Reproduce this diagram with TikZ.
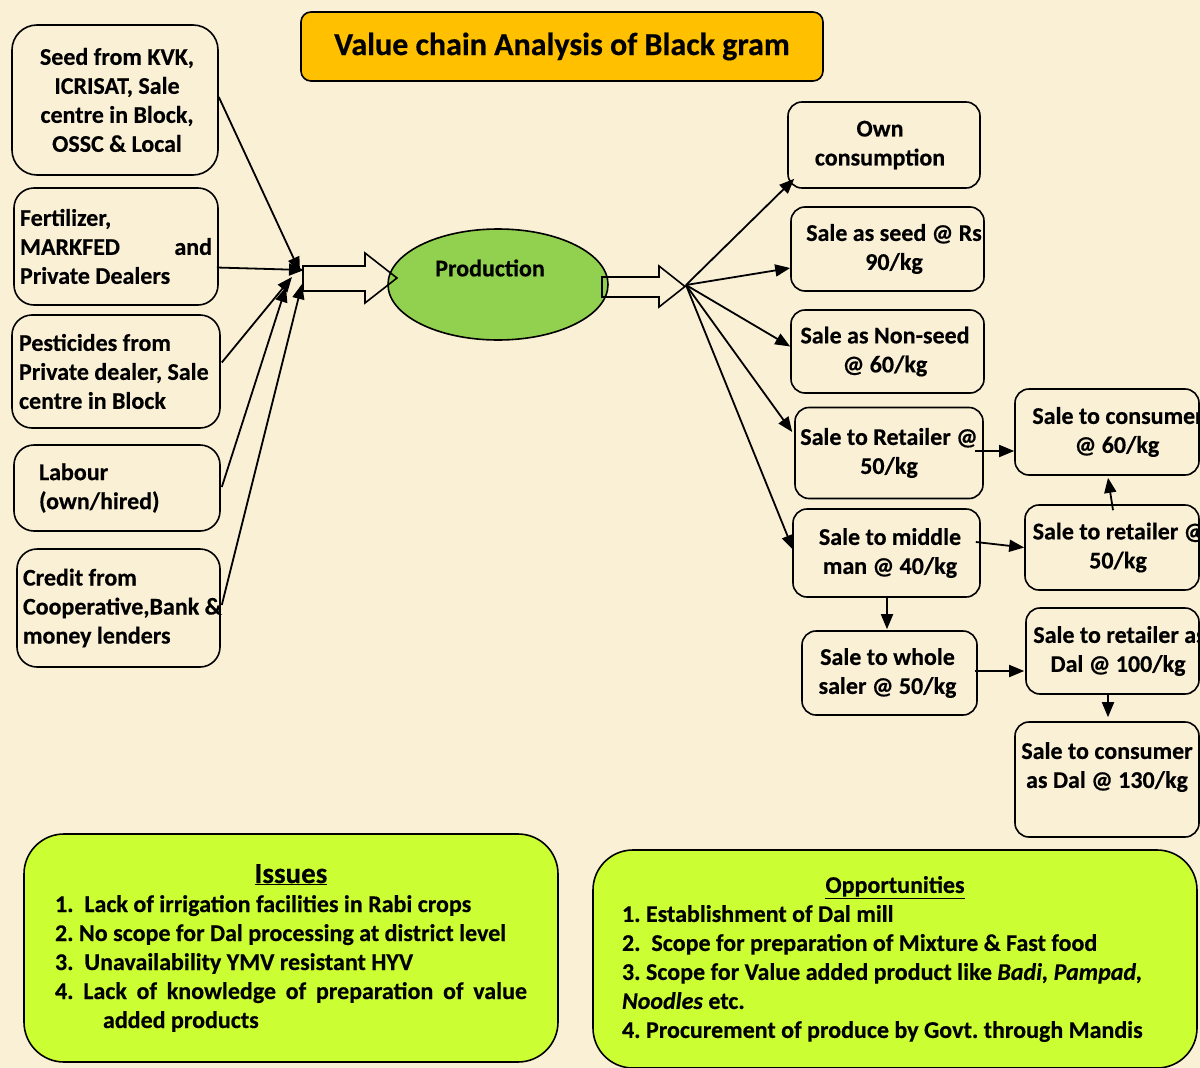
\documentclass[tikz,border=0pt]{standalone}
\usepackage{fontspec}
\setmainfont{Carlito}[BoldFeatures={FakeBold=0.4},BoldItalicFeatures={FakeBold=0.4}]
\usetikzlibrary{arrows.meta,shapes.geometric,calc}
\definecolor{bgc}{RGB}{250,240,214}
\definecolor{titlec}{RGB}{255,192,0}
\definecolor{prodc}{RGB}{146,208,80}
\definecolor{limec}{RGB}{204,255,51}
\newcommand{\rline}[2][0pt]{\makebox[\linewidth]{\hspace*{#1}#2}}
\frenchspacing
\tikzset{
  natspace/.style={execute at begin node={\spaceskip=0pt\relax\xspaceskip=0pt\relax\frenchspacing}},
  boxtext/.style={font=\fontsize{24}{29}\selectfont\bfseries},
  lbox/.style={draw, line width=1.6pt, rounded corners=20pt, inner sep=0pt, boxtext, natspace},
  rbox/.style={draw, line width=1.6pt, rounded corners=14pt, inner sep=0pt, align=center, boxtext, natspace},
  arr/.style={line width=1.8pt, -{Triangle[length=15pt,width=12pt]}},
  blockarrow/.style={draw, line width=1.6pt, line join=miter},
  bigbox/.style={draw, line width=1.6pt, rounded corners=40pt, fill=limec, inner sep=0pt, natspace},
}
\begin{document}
\begin{tikzpicture}[x=1pt,y=-1pt]
\fill[bgc] (0,0) rectangle (1200,1068);
\useasboundingbox (0,0) rectangle (1200,1068);

% title
\node[draw, line width=1.6pt, rounded corners=10pt, fill=titlec, minimum width=522, minimum height=69, inner sep=0pt, font=\fontsize{32}{38}\selectfont\bfseries] (title) at (562,46.5) {Value chain Analysis of Black gram};

% left input boxes
\node[lbox, rounded corners=25pt, minimum width=206, minimum height=150, text width=200, align=center] (seed) at (115,100) {\rline[4pt]{Seed from KVK,}\\\rline[4pt]{ICRISAT, Sale}\\\rline[4pt]{centre in Block,}\\\rline[4pt]{OSSC \& Local}};
\node[lbox, minimum width=204, minimum height=117, text width=192, align=left] (fert) at (116,246.5) {Fertilizer,\\MARKFED\hfill and\\Private Dealers};
\node[lbox, minimum width=208, minimum height=113, text width=194, align=left] (pest) at (116,371.5) {Pesticides from\\\mbox{Private dealer, Sale}\\centre in Block};
\node[lbox, minimum width=206, minimum height=86, text width=156, align=left] (labour) at (117,488) {Labour\\(own/hired)};
\node[lbox, minimum width=203, minimum height=118, text width=191, align=left] (credit) at (118.5,608) {Credit from\\\mbox{Cooperative,Bank \&}\\money lenders};

% production
\node[ellipse, draw, line width=1.6pt, fill=prodc, minimum width=220, minimum height=111, inner sep=0pt] (prod) at (498,284.5) {};
\node[boxtext] (prodtext) at (490,268) {Production};

% block arrows
\draw[blockarrow] (303,266) -- (365,266) -- (365,253) -- (397,278) -- (365,303) -- (365,291) -- (303,291) -- cycle;
\draw[blockarrow] (602,277) -- (659,277) -- (659,266) -- (685,286.5) -- (659,307) -- (659,297) -- (602,297) -- cycle;

% convergence
\coordinate (c1) at (300,272);
\coordinate (c2) at (304,270);
\coordinate (c3) at (292,277);
\coordinate (c4) at (286,287);
\coordinate (c5) at (302,284);
\draw[arr] ($(seed.east)+(0,-3)$) -- (c1);
\draw[arr] ($(fert.east)+(-2,21)$) -- (c2);
\draw[arr] ($(pest.east)+(1,-9)$) -- (c3);
\draw[arr] ($(labour.east)+(1,-1)$) -- (c4);
\draw[arr] ($(credit.east)+(1,-3)$) -- (c5);

% right boxes
\node[rbox, minimum width=192, minimum height=86, text width=192] (own) at (884,145) {\rline[-8pt]{Own}\\\rline[-8pt]{consumption}};
\node[rbox, minimum width=193, minimum height=84, text width=193] (seedsale) at (887.5,249) {\rline[13pt]{Sale as seed @ Rs}\\\rline[13pt]{90/kg}};
\node[rbox, minimum width=193, minimum height=83, text width=193] (nonseed) at (887.5,351.5) {\rline[-5pt]{Sale as Non-seed}\\\rline[-5pt]{@ 60/kg}};
\node[rbox, minimum width=188, minimum height=91, text width=188] (retailer) at (889,453) {\rline{Sale to Retailer @}\\\rline{50/kg}};
\node[rbox, minimum width=187, minimum height=88, text width=187] (middle) at (886.5,553) {\rline[7pt]{Sale to middle}\\\rline[7pt]{man @ 40/kg}};
\node[rbox, minimum width=175, minimum height=84, text width=175] (whole) at (889.5,673) {\rline[-4pt]{Sale to whole}\\\rline[-4pt]{saler @ 50/kg}};
\node[rbox, minimum width=184, minimum height=86, text width=184] (cons60) at (1107,432) {\rline[22pt]{Sale to consumer}\\\rline[20pt]{@ 60/kg}};
\node[rbox, minimum width=174, minimum height=85, text width=174] (ret50) at (1112,547.5) {\rline[14pt]{Sale to retailer @}\\\rline[12pt]{50/kg}};
\node[rbox, minimum width=173, minimum height=86, text width=173] (dal100) at (1112.5,651) {\rline[14pt]{Sale to retailer as}\\\rline[11pt]{Dal @ 100/kg}};
\node[rbox, minimum width=184, minimum height=115, text width=184] (cons130) at (1107,779.5) {\rline{Sale to consumer}\\\rline{as Dal @ 130/kg}\\\mbox{}};

% fan out
\coordinate (fan) at (686,285);
\draw[arr] (fan) -- ($(own.south west)+(7,-10)$);
\draw[arr] (fan) -- ($(seedsale.west)+(0,19)$);
\draw[arr] (fan) -- ($(nonseed.west)+(0,-5)$);
\draw[arr] (fan) -- ($(retailer.west)+(-2,-21)$);
\draw[arr] (fan) -- ($(middle.west)+(1,-3)$);

% chain arrows
\draw[arr] ($(retailer.east)+(-9,-2)$) -- ($(cons60.west)+(0,19)$);
\draw[arr] ($(middle.east)+(-5,-11)$) -- (ret50.west);
\draw[arr] ($(ret50.north)+(1,6)$) -- ($(cons60.south)+(1,2)$);
\draw[arr] ($(middle.south)+(0.5,0)$) -- ($(whole.north)+(-2.5,-1)$);
\draw[arr] ($(whole.east)+(-3,-2)$) -- ($(dal100.west)+(-1,20)$);
\draw[arr] ($(dal100.south)+(-4.5,0)$) -- ($(cons130.north)+(1,-4)$);

% issues and opportunities
\node[bigbox, minimum width=534, minimum height=228, text width=472, align=justify, font=\fontsize{24}{29}\selectfont\bfseries] (issues) at (291,948) {\parindent=0pt
{\centering\fontsize{29}{33}\selectfont\underline{Issues}\par}
1.\ \ Lack of irrigation facilities in Rabi crops\par
2. No scope for Dal processing at district level\par
3.\ \ Unavailability YMV resistant HYV\par
\hangindent=48pt\hangafter=1 4. Lack of knowledge of preparation of value\linebreak added products\par};

\node[bigbox, minimum width=604, minimum height=218, text width=546, font=\fontsize{24}{29}\selectfont\bfseries] (opp) at (895,959) {\parindent=0pt
{\centering\fontsize{24}{29}\selectfont\underline{Opportunities}\par}
\raggedright
1. Establishment of Dal mill\par
2.\ \ Scope for preparation of Mixture \& Fast food\par
3. Scope for Value added product like \textit{Badi, Pampad,}\\
\textit{Noodles} etc.\par
4. Procurement of produce by Govt. through Mandis\par};
\end{tikzpicture}
\end{document}
